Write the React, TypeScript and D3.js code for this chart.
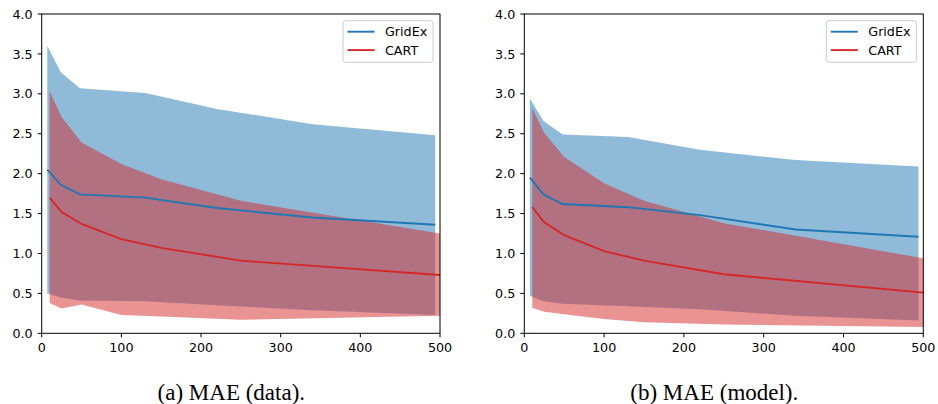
import React from "react";
import * as d3 from "d3";

const gridexX = [7, 24, 48, 130, 220, 340, 494];
const cartX = [10, 25, 50, 100, 150, 250, 500];

const gridexMeanA = [2.05, 1.86, 1.74, 1.7, 1.57, 1.45, 1.36];
const gridexUpperA = [3.6, 3.27, 3.07, 3.01, 2.81, 2.62, 2.48];
const gridexLowerA = [0.5, 0.45, 0.41, 0.4, 0.35, 0.29, 0.23];
const cartMeanA = [1.7, 1.52, 1.37, 1.18, 1.07, 0.91, 0.73];
const cartUpperA = [3.03, 2.71, 2.39, 2.12, 1.93, 1.66, 1.25];
const cartLowerA = [0.38, 0.31, 0.36, 0.23, 0.21, 0.17, 0.22];

const gridexMeanB = [1.95, 1.74, 1.62, 1.58, 1.48, 1.3, 1.21];
const gridexUpperB = [2.94, 2.66, 2.49, 2.46, 2.3, 2.17, 2.09];
const gridexLowerB = [0.47, 0.4, 0.37, 0.34, 0.3, 0.22, 0.16];
const cartMeanB = [1.58, 1.39, 1.23, 1.03, 0.91, 0.74, 0.51];
const cartUpperB = [2.82, 2.51, 2.21, 1.88, 1.66, 1.38, 0.94];
const cartLowerB = [0.32, 0.27, 0.24, 0.18, 0.14, 0.11, 0.08];

const xTicks = [0, 100, 200, 300, 400, 500];
const yTicks = [0, 0.5, 1, 1.5, 2, 2.5, 3, 3.5, 4];
const seriesNames = ["GridEx", "CART"];
const captions = ["(a) MAE (data).", "(b) MAE (model)."];

const BLUE = "#1f77b4";
const RED = "#d62728";
const FONT = "DejaVu Sans, sans-serif";

type PanelProps = {
  x0: number;
  x1: number;
  gMean: number[];
  gUp: number[];
  gLo: number[];
  cMean: number[];
  cUp: number[];
  cLo: number[];
  caption: string;
};

function Panel({ x0, x1, gMean, gUp, gLo, cMean, cUp, cLo, caption }: PanelProps) {
  const top = 14;
  const bottom = 333.3;
  const x = d3.scaleLinear().domain([0, 500]).range([x0, x1]);
  const y = d3.scaleLinear().domain([0, 4]).range([bottom, top]);

  const area = (xs: number[], lo: number[], hi: number[]) =>
    d3
      .area<number>()
      .x((_, i) => x(xs[i]))
      .y0((_, i) => y(lo[i]))
      .y1((_, i) => y(hi[i]))(xs) || "";
  const line = (xs: number[], v: number[]) =>
    d3
      .line<number>()
      .x((_, i) => x(xs[i]))
      .y((_, i) => y(v[i]))(xs) || "";

  const lx = x1 - 97;
  const ly = top + 6.7;
  const clipId = `clip-${Math.round(x0)}`;

  return (
    <g>
      <defs>
        <clipPath id={clipId}>
          <rect x={x0} y={top} width={x1 - x0} height={bottom - top} />
        </clipPath>
      </defs>
      <g clipPath={`url(#${clipId})`}>
        <path d={area(gridexX, gLo, gUp)} fill={BLUE} fillOpacity={0.5} />
        <path d={area(cartX, cLo, cUp)} fill={RED} fillOpacity={0.5} />
        <path d={line(gridexX, gMean)} fill="none" stroke={BLUE} strokeWidth={1.9} />
        <path d={line(cartX, cMean)} fill="none" stroke={RED} strokeWidth={1.9} />
      </g>
      <rect
        x={x0}
        y={top}
        width={x1 - x0}
        height={bottom - top}
        fill="none"
        stroke="#000"
        strokeWidth={1}
      />
      {xTicks.map((t) => (
        <g key={`x${t}`}>
          <line x1={x(t)} x2={x(t)} y1={bottom} y2={bottom + 4} stroke="#000" strokeWidth={1} />
          <text
            x={x(t)}
            y={bottom + 18.5}
            textAnchor="middle"
            fontFamily={FONT}
            fontSize={12.7}
            fill="#000"
          >
            {t}
          </text>
        </g>
      ))}
      {yTicks.map((t) => (
        <g key={`y${t}`}>
          <line x1={x0 - 4} x2={x0} y1={y(t)} y2={y(t)} stroke="#000" strokeWidth={1} />
          <text
            x={x0 - 9}
            y={y(t) + 4.6}
            textAnchor="end"
            fontFamily={FONT}
            fontSize={12.7}
            fill="#000"
          >
            {t.toFixed(1)}
          </text>
        </g>
      ))}
      <rect
        x={lx}
        y={ly}
        width={90}
        height={41.6}
        rx={2.5}
        fill="#fff"
        fillOpacity={0.8}
        stroke="#cccccc"
        strokeWidth={1}
      />
      {seriesNames.map((n, i) => (
        <g key={n}>
          <line
            x1={lx + 4.5}
            x2={lx + 31.5}
            y1={ly + 11 + i * 18.4}
            y2={ly + 11 + i * 18.4}
            stroke={i === 0 ? BLUE : RED}
            strokeWidth={1.9}
          />
          <text
            x={lx + 42}
            y={ly + 15.5 + i * 18.4}
            fontFamily={FONT}
            fontSize={12.7}
            fill="#000"
          >
            {n}
          </text>
        </g>
      ))}
      <text
        x={(x0 + x1) / 2 - 9.5}
        y={400}
        textAnchor="middle"
        fontFamily="Liberation Serif, serif"
        fontSize={23}
        fill="#000"
      >
        {caption}
      </text>
    </g>
  );
}

export default function App() {
  return (
    <svg
      width={938}
      height={404}
      style={{ position: "absolute", left: 0, top: 0, background: "#fff" }}
    >
      <rect width={938} height={404} fill="#fff" />
      <Panel
        x0={41.7}
        x1={440}
        gMean={gridexMeanA}
        gUp={gridexUpperA}
        gLo={gridexLowerA}
        cMean={cartMeanA}
        cUp={cartUpperA}
        cLo={cartLowerA}
        caption={captions[0]}
      />
      <Panel
        x0={524.3}
        x1={923.3}
        gMean={gridexMeanB}
        gUp={gridexUpperB}
        gLo={gridexLowerB}
        cMean={cartMeanB}
        cUp={cartUpperB}
        cLo={cartLowerB}
        caption={captions[1]}
      />
    </svg>
  );
}
